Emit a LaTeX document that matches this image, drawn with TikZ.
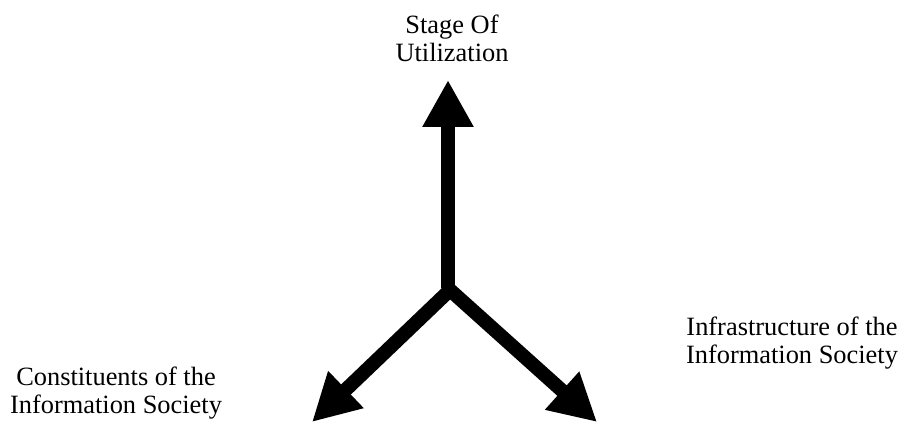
\documentclass[tikz,border=0pt]{standalone}
\usepackage{fontspec}
\setmainfont{Liberation Serif}
\usepackage{tikz}
\usetikzlibrary{arrows.meta,positioning}

\begin{document}
\begin{tikzpicture}[
  x=0.5pt, y=0.5pt,
  axisarrow/.style={
    line width=7pt,
    -{Triangle[length=23.5pt,width=24pt]}
  },
  axislabel/.style={
    font=\fontsize{13.2}{14}\selectfont,
    align=center,
    inner sep=0pt
  }
]
  \useasboundingbox (0,0) rectangle (904,423);

  % Hub and arrow tips
  \coordinate (hub) at (450,133);
  \coordinate (hubtop) at (448,135);
  \coordinate (uptip) at (448,343);
  \coordinate (lefttip) at (312,1);
  \coordinate (righttip) at (597,1);

  % Labels
  \node[axislabel] (stage) at (452,385) {Stage Of\\Utilization};
  \node[axislabel] (constituents) at (116,30) {Constituents of the\\Information Society};
  \node[axislabel] (infra) at (792,80) {Infrastructure of the\\Information Society};

  % Arrows
  \draw[axisarrow] (hubtop) -- (uptip);
  \draw[axisarrow, {Triangle[length=23.5pt,width=24pt]}-{Triangle[length=23.5pt,width=24pt]}]
    (lefttip) -- (hub) -- (righttip);

\end{tikzpicture}
\end{document}
